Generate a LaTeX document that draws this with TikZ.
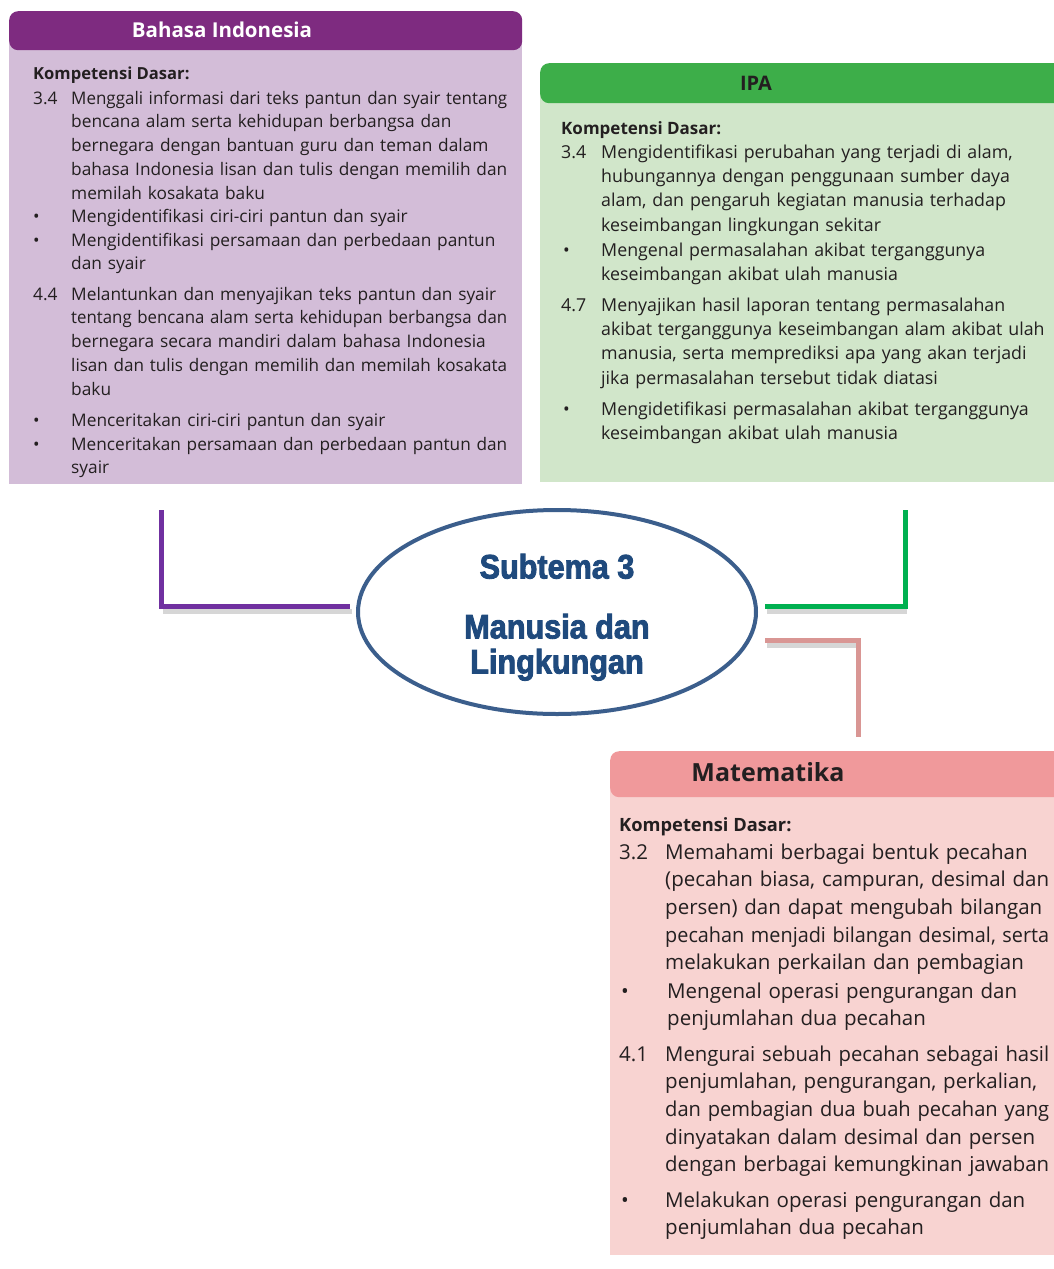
\documentclass[tikz,border=0pt]{standalone}
\usepackage{fontspec}
\usepackage{graphicx}
\setmainfont{Open Sans}
\newfontfamily\ttlfont[FakeStretch=0.9,FakeBold=2.5]{Liberation Sans Bold}
\usetikzlibrary{shapes.geometric}
\definecolor{purpleH}{HTML}{7E2B80}
\definecolor{purpleB}{HTML}{D3BDD8}
\definecolor{greenH}{HTML}{3DAE49}
\definecolor{greenB}{HTML}{D1E6CA}
\definecolor{pinkH}{HTML}{F0999B}
\definecolor{pinkB}{HTML}{F8D3D1}
\definecolor{ellblue}{HTML}{3B5E8C}
\definecolor{ttlblue}{HTML}{1F4A7D}
\definecolor{cpurple}{HTML}{7030A0}
\definecolor{cgreen}{HTML}{00B050}
\definecolor{cpink}{HTML}{D99694}
\definecolor{txt}{HTML}{231F20}
\newsavebox\jlbox
\newcommand\JL[1]{\sbox\jlbox{#1}\ifdim\wd\jlbox>\hsize\resizebox{\hsize}{\height}{#1}\else\makebox[\hsize][s]{#1}\fi}
\newcommand\LL[1]{\sbox\jlbox{#1}\ifdim\wd\jlbox>\hsize\resizebox{\hsize}{\height}{#1}\else#1\fi}
\begin{document}
\begin{tikzpicture}[x=1pt,y=-1pt,
  bodybox/.style={draw=none,anchor=north west,inner sep=0pt,rectangle},
  hdrbox/.style={draw=none,anchor=north west,inner sep=0pt,rectangle,rounded corners=9pt},
  fsA/.style={font=\fontsize{17.3}{23.8}\selectfont},
  fsB/.style={font=\fontsize{17.8}{24.4}\selectfont},
  fsC/.style={font=\fontsize{20.5}{27.7}\selectfont},
  lbl/.style={anchor=base west,inner sep=0pt,text=txt},
  para/.style={anchor=base west,inner sep=0pt,text=txt,align=left,text width=#1},
  ttl/.style={text=ttlblue,font=\ttlfont\fontsize{34}{36}\selectfont,inner sep=0pt,text height=24pt,text depth=5pt},
  conn/.style={line width=5pt},
  shade/.style={line width=5pt,draw=black!35,opacity=0.45}]
\clip (0,0) rectangle (1054,1269);
\fill[white] (0,0) rectangle (1054,1269);

% ---------- Bahasa Indonesia ----------
\node[bodybox,fill=purpleB,minimum width=513pt,minimum height=444pt] (bib) at (9,40) {};
\node[hdrbox,fill=purpleH,minimum width=513pt,minimum height=39pt] (bih) at (9,11) {};
\node[text=white,font=\fontsize{20.5}{24}\selectfont\bfseries,inner sep=0pt] (bit) at (222,30) {Bahasa Indonesia};
\node[lbl,font=\fontsize{16.6}{23.8}\selectfont\bfseries] (bik) at (33,79) {Kompetensi Dasar:};
\node[lbl,fsA] (bin1) at (33,104) {3.4};
\node[para=436pt,fsA] (bip1) at (71,104) {\JL{Menggali informasi dari teks pantun dan syair tentang}\\
\JL{bencana alam serta kehidupan berbangsa dan}\\
\JL{bernegara dengan bantuan guru dan teman dalam}\\
\JL{bahasa Indonesia lisan dan tulis dengan memilih dan}\\
\LL{memilah kosakata baku}};
\node[lbl,fsA] (bid1) at (33,222) {\textbullet};
\node[para=436pt,fsA] (bip2) at (71,222) {\LL{Mengidentifikasi ciri-ciri pantun dan syair}};
\node[lbl,fsA] (bid2) at (33,246) {\textbullet};
\node[para=436pt,fsA] (bip3) at (71,246) {\JL{Mengidentifikasi persamaan dan perbedaan pantun}\\ \LL{dan syair}};
\node[lbl,fsA] (bin2) at (33,300) {4.4};
\node[para=436pt,fsA] (bip4) at (71,300) {\JL{Melantunkan dan menyajikan teks pantun dan syair}\\
\JL{tentang bencana alam serta kehidupan berbangsa dan}\\
\JL{bernegara secara mandiri dalam bahasa Indonesia}\\
\JL{lisan dan tulis dengan memilih dan memilah kosakata}\\
\LL{baku}};
\node[lbl,fsA] (bid3) at (33,426) {\textbullet};
\node[para=436pt,fsA] (bip5) at (71,426) {\LL{Menceritakan ciri-ciri pantun dan syair}};
\node[lbl,fsA] (bid4) at (33,450) {\textbullet};
\node[para=436pt,fsA] (bip6) at (71,450) {\JL{Menceritakan persamaan dan perbedaan pantun dan}\\ \LL{syair}};

% ---------- IPA ----------
\node[bodybox,fill=greenB,minimum width=530pt,minimum height=400pt] (ipb) at (540,82) {};
\node[hdrbox,fill=greenH,minimum width=530pt,minimum height=40pt] (iph) at (540,63) {};
\node[text=txt,font=\fontsize{20}{24}\selectfont\bfseries,inner sep=0pt] (ipt) at (756,83) {IPA};
\node[lbl,font=\fontsize{17}{24.4}\selectfont\bfseries] (ipk) at (561,134) {Kompetensi Dasar:};
\node[lbl,fsB] (ipn1) at (561,158) {3.4};
\node[para=447pt,fsB] (ipp1) at (601,158) {\JL{Mengidentifikasi perubahan yang terjadi di alam,}\\
\JL{hubungannya dengan penggunaan sumber daya}\\
\JL{alam, dan pengaruh kegiatan manusia terhadap}\\
\LL{keseimbangan lingkungan sekitar}};
\node[lbl,fsB] (ipd1) at (563,256) {\textbullet};
\node[para=447pt,fsB] (ipp2) at (601,256) {\JL{Mengenal permasalahan akibat terganggunya}\\
\LL{keseimbangan akibat ulah manusia}};
\node[lbl,fsB] (ipn2) at (561,311) {4.7};
\node[para=447pt,fsB] (ipp3) at (601,311) {\JL{Menyajikan hasil laporan tentang permasalahan}\\
\JL{akibat terganggunya keseimbangan alam akibat ulah}\\
\JL{manusia, serta memprediksi apa yang akan terjadi}\\
\LL{jika permasalahan tersebut tidak diatasi}};
\node[lbl,fsB] (ipd2) at (563,415) {\textbullet};
\node[para=447pt,fsB] (ipp4) at (601,415) {\JL{Mengidetifikasi permasalahan akibat terganggunya}\\
\LL{keseimbangan akibat ulah manusia}};

% ---------- Matematika ----------
\node[bodybox,fill=pinkB,minimum width=460pt,minimum height=480pt] (mtb) at (610,775) {};
\node[hdrbox,fill=pinkH,minimum width=460pt,minimum height=46pt] (mth) at (610,751) {};
\node[text=txt,font=\fontsize{25}{30}\selectfont\bfseries,inner sep=0pt] (mtt) at (768,772) {Matematika};
\node[lbl,font=\fontsize{18.3}{27.7}\selectfont\bfseries] (mtk) at (619,831) {Kompetensi Dasar:};
\node[lbl,fsC] (mtn1) at (619,859) {3.2};
\node[para=384pt,fsC] (mtp1) at (665,859) {\JL{Memahami berbagai bentuk pecahan}\\
\JL{(pecahan biasa, campuran, desimal dan}\\
\JL{persen) dan dapat mengubah bilangan}\\
\JL{pecahan menjadi bilangan desimal, serta}\\
\LL{melakukan perkailan dan pembagian}};
\node[lbl,fsC] (mtd1) at (621,998) {\textbullet};
\node[para=382pt,fsC] (mtp2) at (667,998) {\JL{Mengenal operasi pengurangan dan}\\
\LL{penjumlahan dua pecahan}};
\node[lbl,fsC] (mtn2) at (619,1061) {4.1};
\node[para=384pt,fsC] (mtp3) at (665,1061) {\JL{Mengurai sebuah pecahan sebagai hasil}\\
\JL{penjumlahan, pengurangan, perkalian,}\\
\JL{dan pembagian dua buah pecahan yang}\\
\JL{dinyatakan dalam desimal dan persen}\\
\JL{dengan berbagai kemungkinan jawaban}};
\node[lbl,fsC] (mtd2) at (621,1207) {\textbullet};
\node[para=384pt,fsC] (mtp4) at (665,1207) {\JL{Melakukan operasi pengurangan dan}\\
\LL{penjumlahan dua pecahan}};

% ---------- Centre ellipse ----------
\node[ellipse,draw=ellblue,line width=4pt,fill=white,minimum width=398pt,minimum height=204pt,inner sep=0pt] (ell) at (557,612) {};
\node[ttl] (st) at (557,569) {Subtema 3};
\node[ttl] (mdl1) at (557,629) {Manusia dan};
\node[ttl] (mdl2) at (557,664) {Lingkungan};

% ---------- Connectors ----------
\coordinate (pA) at (161,510);
\coordinate (pB) at (350,606);
\coordinate (gA) at (765,606);
\coordinate (gB) at (905,510);
\coordinate (kA) at (765,640);
\coordinate (kB) at (858,737);
\draw[shade] ([shift={(2,5)}]pA |- pB) -- ([shift={(2,5)}]pB);
\draw[shade] ([shift={(2,5)}]gA) -- ([shift={(2,5)}]gB |- gA);
\draw[shade] ([shift={(2,5)}]kA) -- ([shift={(2,5)}]kB |- kA);
\draw[conn,draw=cpurple] (pA) |- (pB);
\draw[conn,draw=cgreen] (gA) -| (gB);
\draw[conn,draw=cpink] (kA) -| (kB);
\end{tikzpicture}
\end{document}
